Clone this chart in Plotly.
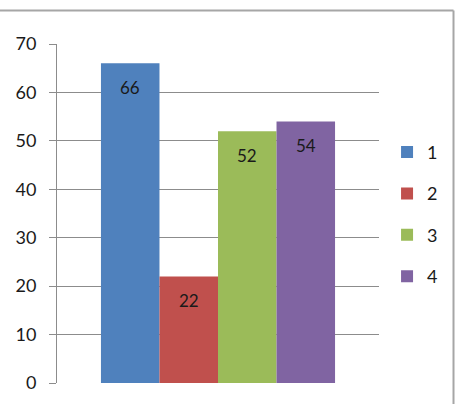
import plotly.graph_objects as go

categories = ["Series"]
series_names = ["1", "2", "3", "4"]
series_values = [66, 22, 52, 54]
colors = ["#4F81BD", "#C0504D", "#9BBB59", "#8064A2"]
y_ticks = [0, 10, 20, 30, 40, 50, 60, 70]

fig = go.Figure()
for name, val, col in zip(series_names, series_values, colors):
    fig.add_trace(go.Bar(
        x=categories, y=[val], name=name, legendgroup=name,
        marker=dict(color=col, line=dict(width=0)),
    ))

# data labels, placed inside near the bar top (Excel "inside end")
for i, (name, val) in enumerate(zip(series_names, series_values)):
    fig.add_annotation(
        x=categories[0], y=val, text=str(val), showarrow=False,
        xref="x", yref="y", xshift=(i - 1.5) * 58.5, yshift=-24,
        font=dict(family="Lato", size=17, color="#1a1a1a"),
    )

fig.update_layout(
    width=465, height=404,
    margin=dict(l=57, r=86, t=44, b=21, autoexpand=False),
    paper_bgcolor="white", plot_bgcolor="white",
    barmode="group", bargap=0.273, bargroupgap=0,
    showlegend=True,
    legend=dict(
        x=1.025, y=0.735, xanchor="left", yanchor="top",
        traceorder="grouped", tracegroupgap=15,
        font=dict(family="Lato", size=18, color="#1a1a1a"),
        itemwidth=30, bgcolor="rgba(0,0,0,0)",
    ),
    font=dict(family="Lato", size=18, color="#1a1a1a"),
    xaxis=dict(showticklabels=False, showgrid=False, zeroline=False,
               showline=False, ticks=""),
    yaxis=dict(range=[0, 70], tickvals=y_ticks, showgrid=True,
               gridcolor="#8c8c8c", gridwidth=1, zeroline=False,
               showline=True, linecolor="#8c8c8c", linewidth=1,
               ticks="outside", ticklen=7, tickcolor="#8c8c8c",
               ticklabelstandoff=9,
               tickfont=dict(family="Lato", size=18, color="#1a1a1a")),
    shapes=[
        dict(type="line", xref="paper", yref="paper",
             x0=-0.2, x1=1.2314, y0=1.0988, y1=1.0988,
             line=dict(color="#a6a6a6", width=2)),
        dict(type="line", xref="paper", yref="paper",
             x0=1.2314, x1=1.2314, y0=1.0988, y1=-0.1,
             line=dict(color="#a6a6a6", width=2)),
    ],
)

fig.write_html("out.html")
